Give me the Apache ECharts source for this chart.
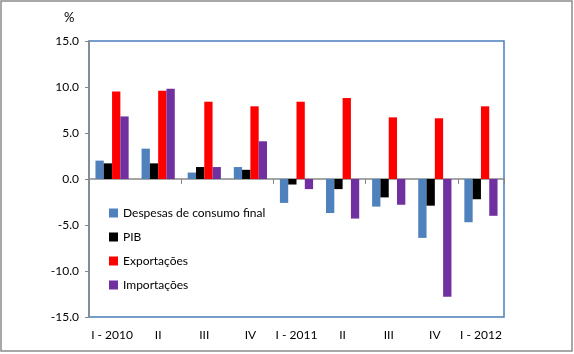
<!DOCTYPE html>
<html>
<head>
<meta charset="utf-8">
<script src="https://cdn.jsdelivr.net/npm/echarts@6/dist/echarts.min.js"></script>
<style>
  html, body { margin: 0; padding: 0; background: #fff; }
  #chart { width: 574px; height: 354px; }
</style>
</head>
<body>
<div id="chart"></div>
<script>
  // categorias (trimestres)
  const quarters = ['I - 2010', 'II', 'III', 'IV', 'I - 2011', 'II', 'III', 'IV', 'I - 2012'];

  // valores (%)
  const despesas    = [2.0, 3.3, 0.7, 1.3, -2.6, -3.7, -3.0, -6.4, -4.7];
  const pib         = [1.7, 1.7, 1.3, 1.0, -0.6, -1.1, -2.0, -2.9, -2.2];
  const exportacoes = [9.5, 9.6, 8.4, 7.9, 8.4, 8.8, 6.7, 6.6, 7.9];
  const importacoes = [6.8, 9.8, 1.3, 4.1, -1.1, -4.3, -2.8, -12.8, -4.0];

  const yTicks = { min: -15, max: 15, step: 5 };

  const font = 'Lato, "Open Sans", sans-serif';
  const mkBar = (name, data, color) => ({
    name, type: 'bar', data,
    xAxisIndex: 0,
    barGap: 0, barCategoryGap: '28%',
    itemStyle: { color },
    emphasis: { disabled: true }
  });

  const chart = echarts.init(document.getElementById('chart'));
  chart.setOption({
    animation: false,
    textStyle: { fontFamily: font },
    graphic: [
      { type: 'rect', shape: { x: 1, y: 1, width: 571, height: 350 },
        style: { fill: 'none', stroke: '#8c8c8c', lineWidth: 1.5 }, z: -1 },
      { type: 'rect', shape: { x: 89, y: 41, width: 415, height: 276 },
        style: { fill: 'none', stroke: '#4a7ebb', lineWidth: 1.5 }, z: 0 },
      { type: 'text', left: 64, top: 11,
        style: { text: '%', fontSize: 13, fill: '#000', fontFamily: font } }
    ],
    grid: { left: 89, right: 70, top: 41, bottom: 37 },
    legend: {
      orient: 'vertical', left: 104, top: 202,
      icon: 'rect', itemWidth: 9, itemHeight: 9, itemGap: 12,
      textStyle: { fontSize: 12, color: '#000', fontFamily: font },
      selectedMode: false
    },
    xAxis: [
      {
        type: 'category', data: quarters,
        axisLine: { onZero: true, lineStyle: { color: '#888', width: 1.5 } },
        axisTick: { show: true, length: 5, lineStyle: { color: '#888' } },
        axisLabel: { show: false }
      },
      {
        type: 'category', data: quarters, position: 'bottom',
        axisLine: { show: false }, axisTick: { show: false },
        axisLabel: { color: '#000', fontSize: 12, margin: 12, interval: 0, fontFamily: font }
      }
    ],
    yAxis: {
      type: 'value', min: yTicks.min, max: yTicks.max, interval: yTicks.step,
      axisLine: { show: true, lineStyle: { color: '#888', width: 1.5 } },
      axisTick: { show: true, length: 4, lineStyle: { color: '#888' } },
      splitLine: { show: false },
      axisLabel: { color: '#000', fontSize: 12, margin: 10, formatter: v => v.toFixed(1), fontFamily: font }
    },
    series: [
      mkBar('Despesas de consumo final', despesas, '#4f81bd'),
      mkBar('PIB', pib, '#000000'),
      mkBar('Exportações', exportacoes, '#ff0000'),
      mkBar('Importações', importacoes, '#7030a0')
    ]
  });
</script>
</body>
</html>
